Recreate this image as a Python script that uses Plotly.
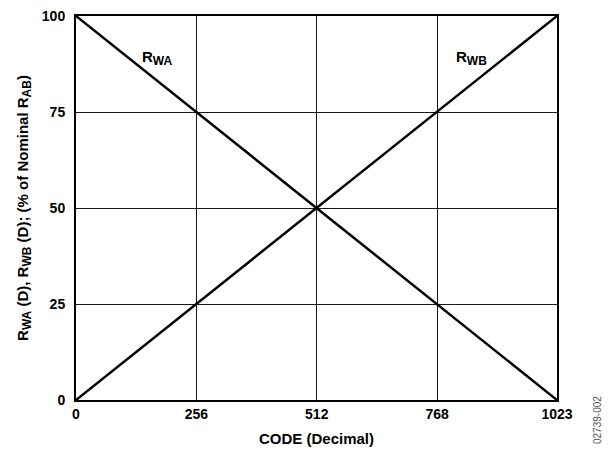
import plotly.graph_objects as go

code = [0, 256, 512, 768, 1023]
r_wa = [100, 75, 50, 25, 0]
r_wb = [0, 25, 50, 75, 100]
x_ticks = [0, 256, 512, 768, 1023]
y_ticks = [0, 25, 50, 75, 100]

FONT = "Liberation Sans, Arial, sans-serif"

L, R, T, B = 76, 51, 16, 52
W, H = 608, 452
PW, PH = W - L - R, H - T - B


def px_to_paper(px, py):
    return (px - L) / PW, (H - B - py) / PH


def sub(s, size=12):
    return f"<sub><span style='font-size:{size}px'>{s}</span></sub>"


fig = go.Figure()
fig.add_trace(go.Scatter(x=code, y=r_wa, mode="lines", line=dict(color="black", width=2.5),
                         showlegend=False, hoverinfo="skip"))
fig.add_trace(go.Scatter(x=code, y=r_wb, mode="lines", line=dict(color="black", width=2.5),
                         showlegend=False, hoverinfo="skip"))

idx, idy = px_to_paper(597, 420)

fig.update_layout(
    width=W, height=H,
    margin=dict(l=L, r=R, t=T, b=B, autoexpand=False),
    paper_bgcolor="white", plot_bgcolor="white",
    font=dict(family=FONT, color="black", size=14),
    xaxis=dict(
        range=[0, 1023], tickvals=x_ticks, ticktext=[f"<b>{v}</b>" for v in x_ticks],
        showgrid=True, gridcolor="#1a1a1a", gridwidth=1,
        showline=True, linecolor="black", linewidth=2, mirror=True,
        ticks="", zeroline=False,
        automargin=False,
        tickfont=dict(size=14, family=FONT),
        title=dict(text="<b>CODE (Decimal)</b>", font=dict(size=15, family=FONT), standoff=13),
    ),
    yaxis=dict(
        range=[0, 100], tickvals=y_ticks, ticktext=[f"<b>{v}</b>" for v in y_ticks],
        showgrid=True, gridcolor="#1a1a1a", gridwidth=1,
        showline=True, linecolor="black", linewidth=2, mirror=True,
        ticks="outside", ticklen=6, tickcolor="rgba(0,0,0,0)", zeroline=False,
        automargin=False,
        tickfont=dict(size=14, family=FONT),
        title=dict(text=f"<b>R{sub('WA')} (D), R{sub('WB')} (D); (% of Nominal R{sub('AB')})</b>",
                   font=dict(size=15, family=FONT), standoff=10),
    ),
    annotations=[
        dict(x=174, y=89, xref="x", yref="y", text=f"<b>R{sub('WA')}</b>", showarrow=False,
             font=dict(size=15, family=FONT)),
        dict(x=842, y=89, xref="x", yref="y", text=f"<b>R{sub('WB')}</b>", showarrow=False,
             font=dict(size=15, family=FONT)),
        dict(x=idx, y=idy, xref="paper", yref="paper", text="02739-002", showarrow=False,
             textangle=-90, xanchor="center", yanchor="middle",
             font=dict(size=10, family=FONT, color="#555555")),
    ],
)

fig.write_html("out.html", config={"displayModeBar": False},
               post_script="document.body.style.margin='0';")
